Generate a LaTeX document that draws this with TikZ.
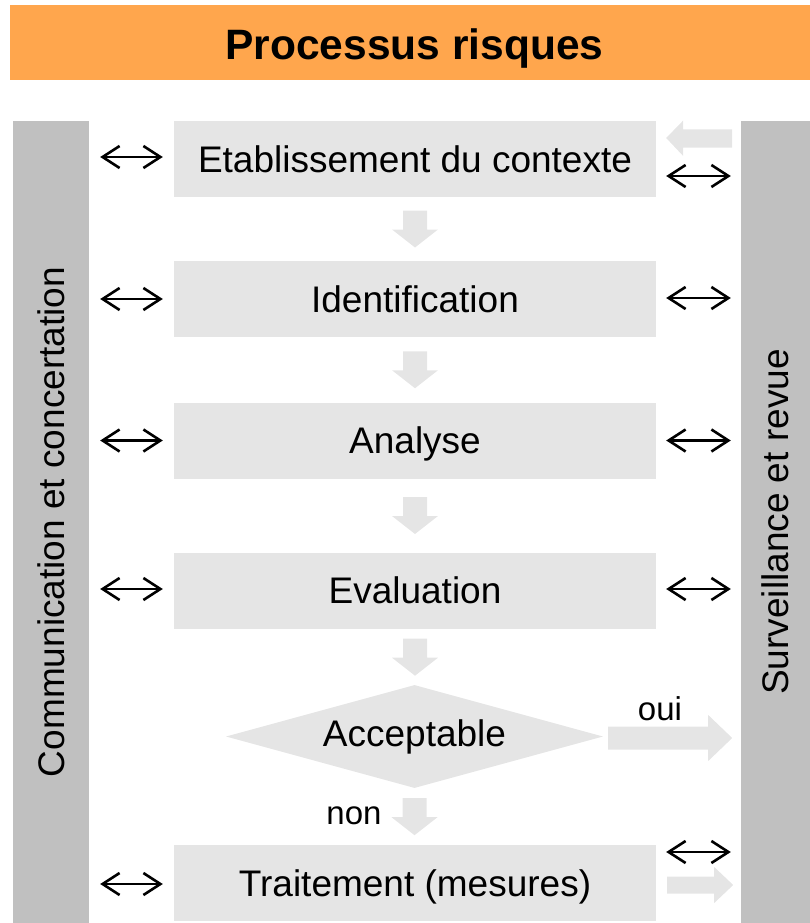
\documentclass[tikz,border=0pt]{standalone}
\usepackage{fontspec}
\setmainfont{Liberation Sans}
\usetikzlibrary{arrows.meta,shapes.geometric,calc}
\definecolor{orangeT}{RGB}{255,166,77}
\definecolor{barG}{RGB}{192,192,192}
\definecolor{boxG}{RGB}{229,229,229}
\newcommand\blkdown[1]{\fill[boxG] (#1) ++(-12,0) -- ++(24,0) -- ++(0,19) -- ++(11,0) -- ++(-23,18) -- ++(-23,-18) -- ++(11,0) -- cycle;}
\tikzset{
  capc/.style={text height=26.5pt, text depth=0pt},
  stepbox/.style={fill=boxG, minimum width=482, minimum height=76, inner sep=0pt, capc, font=\fontsize{37}{44}\selectfont},
  sidebar/.style={fill=barG, minimum height=802, inner sep=0pt},
  sidetext/.style={rotate=90, inner sep=0pt, capc, font=\fontsize{37}{44}\selectfont},
  lbl/.style={inner sep=0pt, font=\fontsize{33}{40}\selectfont},
  dbl/.style={{Straight Barb[length=17pt,width=22pt]}-{Straight Barb[length=17pt,width=22pt]}, line width=2.6pt}
}
\begin{document}
\begin{tikzpicture}[x=1pt,y=-1pt]
\useasboundingbox (0,0) rectangle (810,923);
% title
\node[fill=orangeT, minimum width=800, minimum height=75, inner sep=0pt] (title) at (410,42.5) {};
\node[inner sep=0pt, text height=30.4pt, text depth=0pt, font=\bfseries\fontsize{42.5}{50}\selectfont] (titletext) at (414.5,44) {Processus risques};
% side bars
\node[sidebar, minimum width=76] (cc) at (51,522) {};
\node[sidetext] (cctext) at (cc.center) {Communication et concertation};
\node[sidebar, minimum width=69] (sr) at (775.5,522) {};
\node[sidetext] (srtext) at (sr.center) {Surveillance et revue};
% boxes
\node[stepbox] (b1) at (415,159) {Etablissement du contexte};
\node[stepbox] (b2) at (415,299) {Identification};
\node[stepbox] (b3) at (415,440.5) {Analyse};
\node[stepbox] (b4) at (415,590.5) {Evaluation};
\node[diamond, shape aspect=3.66, fill=boxG, minimum width=377, minimum height=103, inner sep=0pt, font=\fontsize{37}{44}\selectfont] (acc) at (414.5,736.5) {Acceptable};
\node[stepbox] (b5) at (415,883) {Traitement (mesures)};
% down block arrows
\blkdown{$(b1.south)!0.5!(b2.north)+(0,-18.5)$}
\blkdown{$(b2.south)!0.5!(b3.north)+(0,-18.5)$}
\blkdown{$(b3.south)!0.5!(b4.north)+(0,-18.5)$}
\blkdown{$(b4.south)+(0,10)$}
\blkdown{$(acc.south)+(0,10)$}
% oui arrow
\fill[boxG] ($(acc.east)+(129,1.5)$) -- ++(-24,-23) -- ++(0,11.5) -- ++(-100,0) -- ++(0,23) -- ++(100,0) -- ++(0,11.5) -- cycle;
% feedback arrow top right (pointing left)
\fill[boxG] ($(b1.east)+(10,-21)$) -- ++(17,-17.5) -- ++(0,9) -- ++(49,0) -- ++(0,18) -- ++(-49,0) -- ++(0,8.5) -- cycle;
% bottom right arrow (pointing right)
\fill[boxG] ($(b5.east)+(77,2)$) -- ++(-19,-18) -- ++(0,9.5) -- ++(-47,0) -- ++(0,17) -- ++(47,0) -- ++(0,9.5) -- cycle;
% labels
\node[lbl] (oui) at (660,709) {oui};
\node[lbl] (non) at (354,815.5) {non};
% left double arrows
\draw[dbl] ($(cc.east|-b1.west)+(11,-2)$) -- ($(b1.west)+(-11,-2)$);
\draw[dbl] ($(cc.east|-b2.west)+(11,0)$) -- ($(b2.west)+(-11,0)$);
\draw[dbl] ($(cc.east|-b3.west)+(11,0)$) -- ($(b3.west)+(-11,0)$);
\draw[dbl] ($(cc.east|-b4.west)+(11,-1.5)$) -- ($(b4.west)+(-11,-1.5)$);
\draw[dbl] ($(cc.east|-b5.west)+(11,1)$) -- ($(b5.west)+(-11,1)$);
% right double arrows
\draw[dbl] ($(b1.east)+(10,17)$) -- ($(sr.west|-b1.east)+(-10,17)$);
\draw[dbl] ($(b2.east)+(10,-1)$) -- ($(sr.west|-b2.east)+(-10,-1)$);
\draw[dbl] ($(b3.east)+(10,0)$) -- ($(sr.west|-b3.east)+(-10,0)$);
\draw[dbl] ($(b4.east)+(10,-1.5)$) -- ($(sr.west|-b4.east)+(-10,-1.5)$);
\draw[dbl] ($(b5.east)+(10,-31)$) -- ($(sr.west|-b5.east)+(-10,-31)$);
\end{tikzpicture}
\end{document}
